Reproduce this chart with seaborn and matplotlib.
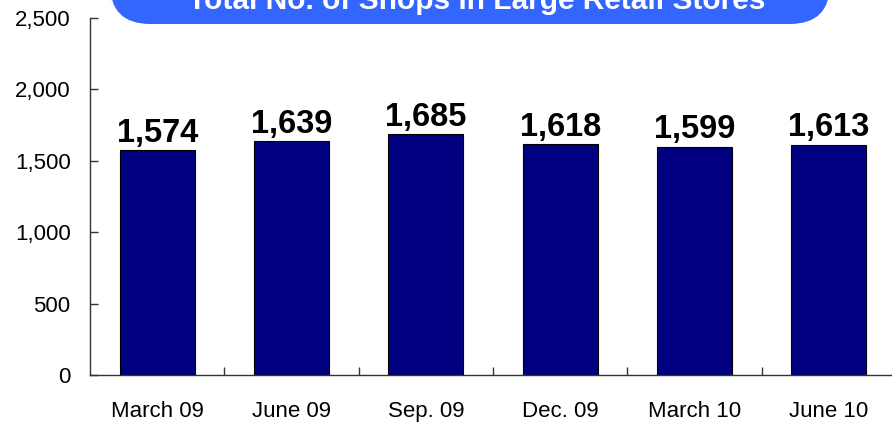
import matplotlib
matplotlib.use("Agg")
import matplotlib.pyplot as plt
from matplotlib.patches import FancyBboxPatch
import seaborn as sns
import pandas as pd

periods = ["March 09", "June 09", "Sep. 09", "Dec. 09", "March 10", "June 10"]
shops = [1574, 1639, 1685, 1618, 1599, 1613]
y_ticks = [0, 500, 1000, 1500, 2000, 2500]
title = "Total No. of Shops in Large Retail Stores"

sns.set_theme(style="white")
plt.rcParams["font.family"] = ["Liberation Sans", "DejaVu Sans"]

df = pd.DataFrame({"period": periods, "shops": shops})

fig = plt.figure(figsize=(8.92, 4.23), dpi=100)
ax = fig.add_axes([90 / 892, 48 / 423, 806 / 892, 357 / 423])

sns.barplot(data=df, x="period", y="shops", color="#000080", saturation=1,
            width=0.56, edgecolor="black", linewidth=0.8, ax=ax)

ax.set_xlim(-0.5, len(periods) - 0.5)
ax.set_ylim(0, 2500)
ax.set_yticks(y_ticks)
ax.set_yticklabels([f"{v:,}" for v in y_ticks])
ax.set_xlabel("")
ax.set_ylabel("")

for s in ("top", "right"):
    ax.spines[s].set_visible(False)
for s in ("left", "bottom"):
    ax.spines[s].set_color("#333333")
    ax.spines[s].set_linewidth(1.0)

ax.tick_params(axis="y", left=True, direction="in", length=6, width=1,
               color="#333333", pad=14, labelsize=16, labelcolor="black")
ax.tick_params(axis="x", which="major", bottom=True, length=0, pad=19,
               labelsize=16, labelcolor="black")
ax.set_xticks([i + 0.5 for i in range(len(periods) - 1)], minor=True)
ax.tick_params(axis="x", which="minor", bottom=True, direction="in", length=6,
               width=1, color="#333333")

for cont in ax.containers:
    ax.bar_label(cont, labels=[f"{v:,}" for v in shops], padding=1,
                 fontsize=23.5, fontweight="bold", color="black")

box = FancyBboxPatch((110 / 892, 399 / 423), 720 / 892, 60 / 423,
                     boxstyle="round,pad=0,rounding_size=0.045",
                     transform=fig.transFigure, facecolor="#3366ff",
                     edgecolor="none", clip_on=False, mutation_aspect=892 / 423)
fig.patches.append(box)
fig.text(477 / 892, 414 / 423, title, ha="center", va="baseline",
         fontsize=21.5, fontweight="bold", color="white")

fig.savefig("out.png", dpi=100)
